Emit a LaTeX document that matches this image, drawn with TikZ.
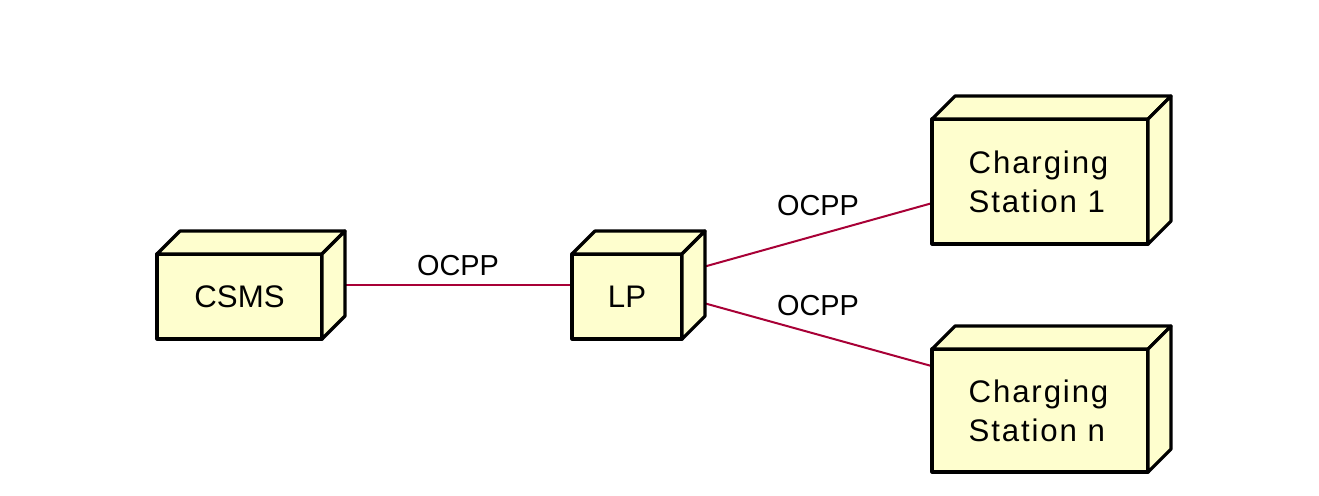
\documentclass[tikz,border=0pt]{standalone}
\usepackage{fontspec}
\setmainfont{Liberation Sans}
\definecolor{nodefill}{HTML}{FEFECE}
\definecolor{linkcol}{HTML}{A80036}
\tikzset{
  extent/.style={draw=none, inner sep=0pt, outer sep=0pt, minimum width=#1},
  face/.style={draw=black, fill=nodefill, line width=3.2pt, line join=round},
  link/.style={draw=linkcol, line width=2pt},
  nodetext/.style={font=\fontsize{31.2}{39}\selectfont, align=left, inner sep=0pt},
  widetext/.style={font=\fontsize{31.2}{39}\selectfont\addfontfeatures{LetterSpace=6}, align=left, inner sep=0pt},
  linklabel/.style={font=\fontsize{28.9}{34}\selectfont, inner sep=0pt},
}
% draw a 3D node box over an invisible extent node #1, depth 23
\newcommand{\threedbox}[1]{%
  \draw[face] (#1.south west) rectangle ([shift={(-23,23)}]#1.north east);
  \draw[face] ([shift={(0,23)}]#1.north west) -- ([shift={(23,0)}]#1.north west)
     -- (#1.north east) -- ([shift={(-23,23)}]#1.north east) -- cycle;
  \draw[face] (#1.north east) -- ([shift={(0,-23)}]#1.south east)
     -- ([shift={(-23,0)}]#1.south east) -- ([shift={(-23,23)}]#1.north east) -- cycle;
}
\begin{document}
\begin{tikzpicture}[x=1pt, y=-1pt]
\useasboundingbox[fill=white] (0,0) rectangle (1319,495);
% extents (front face + depth)
\node[extent=188pt, minimum height=108pt] (csms) at (251,285) {};
\node[extent=133pt, minimum height=108pt] (lp) at (638.5,285) {};
\node[extent=239pt, minimum height=148pt] (cs1) at (1051.5,170) {};
\node[extent=239pt, minimum height=146pt] (csn) at (1051.5,399) {};
% connectors
\draw[link] (csms) -- (lp);
\draw[link] (lp) -- (cs1);
\draw[link] (lp) -- (csn);
% boxes
\threedbox{csms}
\threedbox{lp}
\threedbox{cs1}
\threedbox{csn}
% texts
\node[nodetext] (csms-t) at ([shift={(-11.5,11.5)}]csms.center) {CSMS};
\node[nodetext] (lp-t) at ([shift={(-11.5,11.5)}]lp.center) {LP};
\node[widetext] (cs1-t) at ([shift={(-13,11.5)}]cs1.center) {Charging\\Station 1};
\node[widetext] (csn-t) at ([shift={(-13,11.5)}]csn.center) {Charging\\Station n};
% link labels
\node[linklabel] (l1) at (458,266) {OCPP};
\node[linklabel] (l2) at (818,206) {OCPP};
\node[linklabel] (l3) at (818,306) {OCPP};
\end{tikzpicture}
\end{document}
